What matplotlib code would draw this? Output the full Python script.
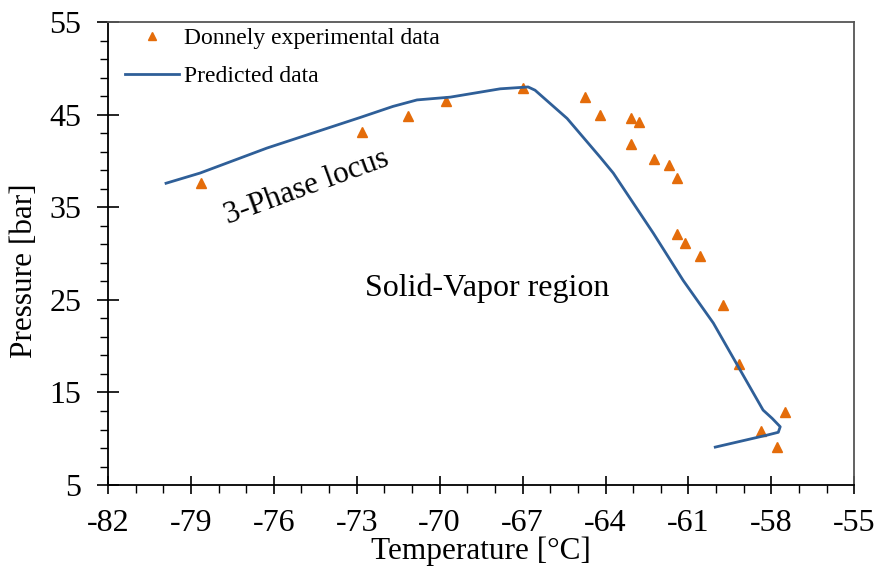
import matplotlib
matplotlib.use("Agg")
import matplotlib.pyplot as plt

plt.rcParams['font.family'] = ['Liberation Serif', 'DejaVu Serif']
plt.rcParams['axes.unicode_minus'] = False

# Donnely experimental data
exp_t = [-78.63, -72.8, -71.14, -69.77, -66.98, -64.74, -64.19, -63.07, -62.78,
         -63.07, -62.24, -61.70, -61.41, -61.41, -61.12, -60.57, -59.74, -59.16,
         -57.50, -58.37, -57.79]
exp_p = [37.6, 43.1, 44.85, 46.5, 47.9, 46.9, 45.0, 44.6, 44.2,
         41.8, 40.2, 39.6, 38.2, 32.1, 31.2, 29.7, 24.4, 18.1,
         12.9, 10.8, 9.1]

# predicted curve
pred_t = [-79.9, -78.67, -76.25, -72.88, -71.69, -70.82, -69.62, -67.81, -66.8,
          -66.55, -65.39, -64.19, -63.72, -62.27, -61.19, -60.1, -58.3, -57.97,
          -57.68, -57.75, -58.15, -60.03]
pred_p = [37.6, 38.7, 41.4, 44.7, 45.9, 46.6, 46.9, 47.8, 48.0,
          47.65, 44.6, 40.4, 38.7, 32.2, 27.1, 22.5, 13.1, 12.2,
          11.3, 10.7, 10.4, 9.1]

x_ticks = [-82, -79, -76, -73, -70, -67, -64, -61, -58, -55]
y_ticks = [5, 15, 25, 35, 45, 55]

fig = plt.figure(figsize=(8.78, 5.68), dpi=100)
ax = fig.add_axes([0.123, 0.146, 0.850, 0.815])

ax.plot(exp_t, exp_p, linestyle='none', marker='^', markersize=7.5,
        color='#E46C0A', label='Donnely experimental data')
ax.plot(pred_t, pred_p, color='#2F5F98', lw=2, label='Predicted data')

ax.set_xlim(-82, -55)
ax.set_ylim(5, 55)
ax.set_xticks(x_ticks)
ax.set_xticks(range(-82, -54), minor=True)
ax.set_yticks(y_ticks)
ax.set_yticks(range(5, 56, 2), minor=True)
ax.tick_params(which='major', direction='inout', width=1.2,
               labelsize=23, top=False, right=False)
ax.tick_params(axis='x', which='major', length=13, pad=11)
ax.tick_params(axis='y', which='major', length=16, pad=11)
ax.tick_params(which='minor', direction='out', length=6, width=1)
for s in ax.spines.values():
    s.set_linewidth(1.3)
ax.spines['right'].set_color('#555555')
ax.spines['top'].set_color('#555555')

ax.set_xlabel('Temperature [°C]', fontsize=22.5)
ax.xaxis.set_label_coords(0.5, -0.112)
ax.set_ylabel('Pressure [bar]', fontsize=22.5)
ax.yaxis.set_label_coords(-0.092, 0.464)

ax.text(-74.8, 37.1, '3-Phase locus', fontsize=22.5, rotation=20,
        ha='center', va='center')
ax.text(-68.28, 26.3, 'Solid-Vapor region', fontsize=23,
        ha='center', va='center')

ax.legend(loc='upper left', frameon=False, fontsize=17,
          bbox_to_anchor=(0.023, 0.988), borderaxespad=0, borderpad=0,
          handlelength=2.3, labelspacing=0.68, handletextpad=0.2,
          markerscale=0.8)

fig.savefig('out.png', dpi=100)
